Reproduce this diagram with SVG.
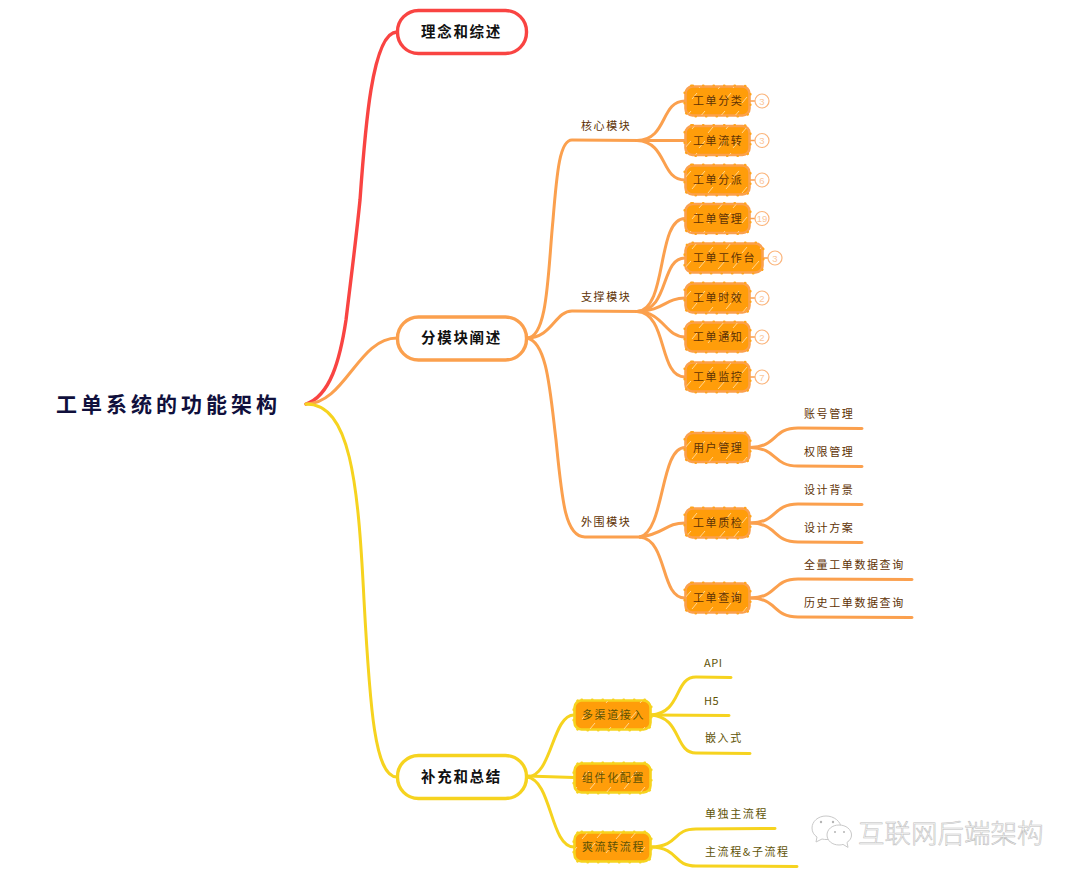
<svg xmlns="http://www.w3.org/2000/svg" width="1080" height="881" viewBox="0 0 1080 881">
<style>
text{font-family:"Noto Sans CJK SC","Noto Sans",sans-serif}
.c{fill:none;stroke-linecap:round}
.r{stroke:#f94442;stroke-width:3.4}
.o{stroke:#fba04e;stroke-width:3}
.y{stroke:#f6d31f;stroke-width:3}
.root{font-size:21px;font-weight:700;letter-spacing:4px;fill:#10103c}
.l1{font-size:14.5px;font-weight:700;letter-spacing:1.7px;fill:#111}
.t{font-size:11px;letter-spacing:1.6px}
.to{fill:#5e3205}
.ty{fill:#5e5205}
.b1{fill:#fff;stroke-width:3.4}
.box{fill:#ff9d0a;stroke-width:2.6}
.dots{fill:none;stroke-width:2.2;stroke-dasharray:.5 10;stroke-linecap:round}
.badge{fill:#fff;stroke:#fbb57c;stroke-width:1.2}
.bt{font-size:9.5px;fill:#fbc69a;text-anchor:middle;font-family:"Liberation Sans",sans-serif}
.wm{font-size:26.5px;font-weight:300;fill:#fafafa;stroke:#bdbdbd;stroke-width:.55}
.wi{fill:#fff;stroke:#c9c9c9;stroke-width:1}
.wd{fill:#b5b5b5}
</style>
<defs>
<pattern id="hatch" width="34" height="30" patternUnits="userSpaceOnUse">
<path d="M4 29L11 21M19 28L25 21M28 13L33 7M12 9L17 3" stroke="#ffdca0" stroke-width=".9" fill="none"/>
</pattern>
</defs>
<g id="connectors">
<path class="c r" d="M306 404C330 396 340 360 346 320C352 270 356 240 360 200C365 130 372 32 397 32"/>
<path class="c o" d="M306 404C345 404 358 338 397 338"/>
<path class="c y" d="M306 404C350 404 358 480 364 600C370 710 375 777 397 777"/>
<path class="c o" d="M527 338C548 338 548 270 553 220C557 170 560 140 572 140L640 140.500"/>
<path class="c o" d="M527 338C552 338 555 311 572 311L640 311.500"/>
<path class="c o" d="M527 338C547 342 550 390 556 440C562 500 565 537 585 537L640 537"/>
<path class="c o" d="M637 140.500C668 140 660 101 685 101"/>
<path class="c o" d="M637 140.500L685 140.500"/>
<path class="c o" d="M637 140.500C668 142 660 180 685 180"/>
<path class="c o" d="M637 311.500C668 310 656 218.500 685 218.500"/>
<path class="c o" d="M637 311.500C670 311 660 258 685 258"/>
<path class="c o" d="M637 311.500C664 311 665 298 685 298"/>
<path class="c o" d="M637 311.500C664 312 665 337 685 337"/>
<path class="c o" d="M637 311.500C668 313 658 377 685 377"/>
<path class="c o" d="M640 537C665 530 660 447.500 685 447.500"/>
<path class="c o" d="M640 537C665 534 665 523 685 523"/>
<path class="c o" d="M640 537C668 540 660 598 685 598"/>
<path class="c o" d="M750 447.500C778 447 772 428 798 428L862 428.500"/>
<path class="c o" d="M750 447.500C778 448 772 466 798 466L862 466.500"/>
<path class="c o" d="M750 523C778 523 772 504 798 504L862 504.500"/>
<path class="c o" d="M750 523C778 523 772 542 798 542L862 542.500"/>
<path class="c o" d="M750 598C778 598 772 579 798 579L912 579.500"/>
<path class="c o" d="M750 598C778 598 772 617 798 617L912 617.500"/>
<path class="c o" d="M750 101H755M750 140.500H755M750 180H755M750 218.500H755M763 258H768M750 298H755M750 337H755M750 377H755" style="stroke-width:1.5"/>
<path class="c y" d="M527 777C552 777 552 715 574 715"/>
<path class="c y" d="M527 776L574 777.500"/>
<path class="c y" d="M527 777C552 780 550 847 574 847"/>
<path class="c y" d="M651 715C682 713 674 677 696 677L731 677.500"/>
<path class="c y" d="M651 715L729 715.500"/>
<path class="c y" d="M651 715C682 717 674 753 696 753L750 753.500"/>
<path class="c y" d="M651 847C680 846 672 829 696 829L775 828.500"/>
<path class="c y" d="M651 847C680 848 672 866 696 866L797 866.500"/>
</g>
<g id="root"><text class="root" x="56" y="412">工单系统的功能架构</text></g>
<g id="n-linian"><rect class="b1" x="397.500" y="10.500" width="129" height="43" rx="21" stroke="#f94442"/><text class="l1" x="421" y="37">理念和综述</text></g>
<g id="n-fenmokuai"><rect class="b1" x="397.500" y="317" width="129" height="43" rx="21" stroke="#fba04e"/><text class="l1" x="421" y="343">分模块阐述</text></g>
<g id="n-buchong"><rect class="b1" x="397.500" y="755.500" width="129" height="43" rx="21" stroke="#f6d31f"/><text class="l1" x="421" y="782">补充和总结</text></g>
<g id="n-hexin"><text class="t to" x="581" y="130">核心模块</text></g>
<g id="n-zhicheng"><text class="t to" x="581" y="301">支撑模块</text></g>
<g id="n-waiwei"><text class="t to" x="581" y="526">外围模块</text></g>
<g id="n-fenlei"><rect class="box" x="685.500" y="86.500" width="64" height="29" rx="7" stroke="#fba04e"/><rect class="dots" x="684.500" y="85.500" width="66" height="31" rx="8" stroke="#ffa41a"/><rect x="686" y="87" width="63" height="28" rx="7" fill="url(#hatch)"/><text class="t to" x="693" y="105">工单分类</text><circle class="badge" cx="762" cy="101" r="7"/><text class="bt" x="762" y="104.500">3</text></g>
<g id="n-liuzhuan"><rect class="box" x="685.500" y="126" width="64" height="29" rx="7" stroke="#fba04e"/><rect class="dots" x="684.500" y="125" width="66" height="31" rx="8" stroke="#ffa41a"/><rect x="686" y="126.500" width="63" height="28" rx="7" fill="url(#hatch)"/><text class="t to" x="693" y="144.500">工单流转</text><circle class="badge" cx="762" cy="140.500" r="7"/><text class="bt" x="762" y="144">3</text></g>
<g id="n-fenpai"><rect class="box" x="685.500" y="165.500" width="64" height="29" rx="7" stroke="#fba04e"/><rect class="dots" x="684.500" y="164.500" width="66" height="31" rx="8" stroke="#ffa41a"/><rect x="686" y="166" width="63" height="28" rx="7" fill="url(#hatch)"/><text class="t to" x="693" y="184">工单分派</text><circle class="badge" cx="762" cy="180" r="7"/><text class="bt" x="762" y="183.500">6</text></g>
<g id="n-guanli"><rect class="box" x="685.500" y="204" width="64" height="29" rx="7" stroke="#fba04e"/><rect class="dots" x="684.500" y="203" width="66" height="31" rx="8" stroke="#ffa41a"/><rect x="686" y="204.500" width="63" height="28" rx="7" fill="url(#hatch)"/><text class="t to" x="693" y="222.500">工单管理</text><circle class="badge" cx="762" cy="218.500" r="7"/><text class="bt" x="762" y="222">19</text></g>
<g id="n-gongzuotai"><rect class="box" x="685.500" y="243.500" width="77" height="29" rx="7" stroke="#fba04e"/><rect class="dots" x="684.500" y="242.500" width="79" height="31" rx="8" stroke="#ffa41a"/><rect x="686" y="244" width="76" height="28" rx="7" fill="url(#hatch)"/><text class="t to" x="693" y="262">工单工作台</text><circle class="badge" cx="775" cy="258" r="7"/><text class="bt" x="775" y="261.500">3</text></g>
<g id="n-shixiao"><rect class="box" x="685.500" y="283.500" width="64" height="29" rx="7" stroke="#fba04e"/><rect class="dots" x="684.500" y="282.500" width="66" height="31" rx="8" stroke="#ffa41a"/><rect x="686" y="284" width="63" height="28" rx="7" fill="url(#hatch)"/><text class="t to" x="693" y="302">工单时效</text><circle class="badge" cx="762" cy="298" r="7"/><text class="bt" x="762" y="301.500">2</text></g>
<g id="n-tongzhi"><rect class="box" x="685.500" y="322.500" width="64" height="29" rx="7" stroke="#fba04e"/><rect class="dots" x="684.500" y="321.500" width="66" height="31" rx="8" stroke="#ffa41a"/><rect x="686" y="323" width="63" height="28" rx="7" fill="url(#hatch)"/><text class="t to" x="693" y="341">工单通知</text><circle class="badge" cx="762" cy="337" r="7"/><text class="bt" x="762" y="340.500">2</text></g>
<g id="n-jiankong"><rect class="box" x="685.500" y="362.500" width="64" height="29" rx="7" stroke="#fba04e"/><rect class="dots" x="684.500" y="361.500" width="66" height="31" rx="8" stroke="#ffa41a"/><rect x="686" y="363" width="63" height="28" rx="7" fill="url(#hatch)"/><text class="t to" x="693" y="381">工单监控</text><circle class="badge" cx="762" cy="377" r="7"/><text class="bt" x="762" y="380.500">7</text></g>
<g id="n-yonghu"><rect class="box" x="685.500" y="433" width="64" height="29" rx="7" stroke="#fba04e"/><rect class="dots" x="684.500" y="432" width="66" height="31" rx="8" stroke="#ffa41a"/><rect x="686" y="433.500" width="63" height="28" rx="7" fill="url(#hatch)"/><text class="t to" x="693" y="451.500">用户管理</text></g>
<g id="n-zhijian"><rect class="box" x="685.500" y="508.500" width="64" height="29" rx="7" stroke="#fba04e"/><rect class="dots" x="684.500" y="507.500" width="66" height="31" rx="8" stroke="#ffa41a"/><rect x="686" y="509" width="63" height="28" rx="7" fill="url(#hatch)"/><text class="t to" x="693" y="527">工单质检</text></g>
<g id="n-chaxun"><rect class="box" x="685.500" y="583.500" width="64" height="29" rx="7" stroke="#fba04e"/><rect class="dots" x="684.500" y="582.500" width="66" height="31" rx="8" stroke="#ffa41a"/><rect x="686" y="584" width="63" height="28" rx="7" fill="url(#hatch)"/><text class="t to" x="693" y="602">工单查询</text></g>
<g id="n-zhanghao"><text class="t to" x="804" y="418">账号管理</text></g>
<g id="n-quanxian"><text class="t to" x="804" y="456">权限管理</text></g>
<g id="n-beijing"><text class="t to" x="804" y="494">设计背景</text></g>
<g id="n-fangan"><text class="t to" x="804" y="532">设计方案</text></g>
<g id="n-quanliang"><text class="t to" x="804" y="569">全量工单数据查询</text></g>
<g id="n-lishi"><text class="t to" x="804" y="607">历史工单数据查询</text></g>
<g id="n-duoqudao"><rect class="box" x="574.500" y="700.500" width="76" height="29" rx="7" stroke="#f6d31f"/><rect class="dots" x="573.500" y="699.500" width="78" height="31" rx="8" stroke="#f6d31f"/><rect x="575" y="701" width="75" height="28" rx="7" fill="url(#hatch)"/><text class="t ty" x="582" y="719">多渠道接入</text></g>
<g id="n-zujian"><rect class="box" x="574.500" y="763.500" width="76" height="29" rx="7" stroke="#f6d31f"/><rect class="dots" x="573.500" y="762.500" width="78" height="31" rx="8" stroke="#f6d31f"/><rect x="575" y="764" width="75" height="28" rx="7" fill="url(#hatch)"/><text class="t ty" x="582" y="781.500">组件化配置</text></g>
<g id="n-shuang"><rect class="box" x="574.500" y="832.500" width="76" height="29" rx="7" stroke="#f6d31f"/><rect class="dots" x="573.500" y="831.500" width="78" height="31" rx="8" stroke="#f6d31f"/><rect x="575" y="833" width="75" height="28" rx="7" fill="url(#hatch)"/><text class="t ty" x="582" y="851">爽流转流程</text></g>
<g id="n-api"><text class="t ty" x="704" y="667" style="letter-spacing:.5px">API</text></g>
<g id="n-h5"><text class="t ty" x="704" y="705" style="letter-spacing:.5px">H5</text></g>
<g id="n-qianru"><text class="t ty" x="705" y="742">嵌入式</text></g>
<g id="n-dandu"><text class="t ty" x="705" y="818">单独主流程</text></g>
<g id="n-zhuliucheng"><text class="t ty" x="705" y="856">主流程&amp;子流程</text></g>
<g id="watermark">
<path class="wi" d="M826 816c-8 0-14 5.500-14 12 0 4 2 7 5 9l-1 5 6-3c2 .5 3 .5 5 .5 8 0 14-5 14-11.500S834 816 826 816z"/>
<path class="wi" d="M839 825c-7 0-12 4.500-12 10s5 10 12 10c1.500 0 3-.2 4-.6l5 3-1-5c3-2 4.500-4.400 4.500-7.400 0-5.500-5.500-10-12.500-10z"/>
<circle class="wd" cx="821" cy="822" r="1.200"/><circle class="wd" cx="833" cy="822" r="1.200"/><circle class="wd" cx="835" cy="832" r="1"/><circle class="wd" cx="844" cy="832" r="1"/>
<text class="wm" x="858" y="843">互联网后端架构</text>
</g>
</svg>
